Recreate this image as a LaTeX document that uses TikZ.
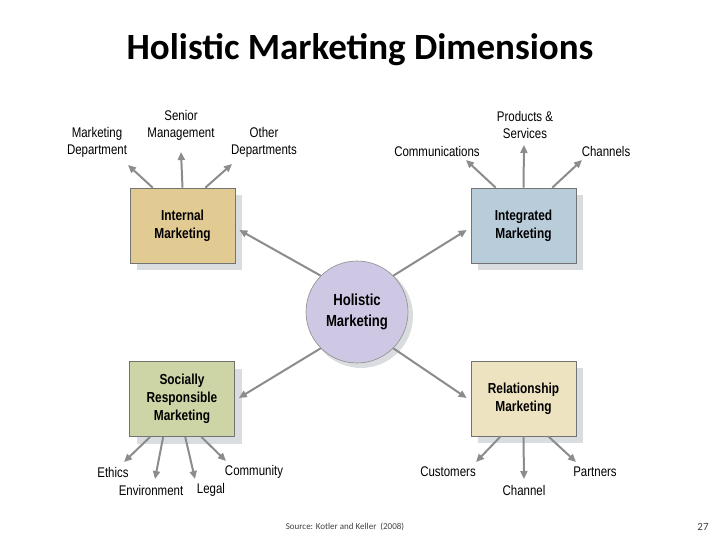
\documentclass[tikz,border=0pt]{standalone}
\usepackage{fontspec}
\setmainfont{Carlito}
\newfontfamily\narrowf[FakeStretch=0.82]{Liberation Sans}
\usetikzlibrary{arrows.meta}
\definecolor{arr}{HTML}{8C8C8C}
\definecolor{shad}{HTML}{DADDE0}
\definecolor{cim}{HTML}{E2CB93}
\definecolor{cig}{RGB}{185,204,218}
\definecolor{csr}{RGB}{205,213,166}
\definecolor{crm}{RGB}{238,227,192}
\definecolor{chm}{RGB}{207,200,228}
\tikzset{x=1pt,y=-1pt,
 box/.style={draw=black!55,line width=0.6pt,minimum width=105pt,minimum height=75pt,inner sep=0pt,align=center,font=\narrowf\bfseries\fontsize{14.5}{18}\selectfont},
 lbl/.style={align=center,font=\narrowf\fontsize{14}{17}\selectfont,inner sep=1pt},
 ar/.style={draw=arr,line width=2pt,-{Triangle[length=8pt,width=7pt]}}}
\begin{document}
\begin{tikzpicture}
\useasboundingbox (0,0) rectangle (720,540);
\node (title) at (360,50) {\bfseries\fontsize{37}{40}\selectfont Holistic Marketing Dimensions};
% shadows
\foreach \x/\y in {182.5/225.5,523.5/225.5,182/399,523.5/398.5}
  \fill[shad] (\x-52.5+7,\y-37.5+7) rectangle (\x+52.5+7,\y+37.5+7);
\fill[shad] (361,316) circle (52);
\node[box,fill=cim] (im) at (182.5,225.5) {Internal\\Marketing};
\node[box,fill=cig] (ig) at (523.5,225.5) {Integrated\\Marketing};
\node[box,fill=csr] (sr) at (182,399) {Socially\\Responsible\\Marketing};
\node[box,fill=crm] (rm) at (523.5,398.5) {Relationship\\Marketing};
\node[circle,draw=black!45,line width=0.6pt,minimum size=102pt,inner sep=0pt,align=center,
 font=\narrowf\bfseries\fontsize{16}{21}\selectfont,fill=chm] (hm) at (357,312) {Holistic\\Marketing};
% center arrows
\draw[ar] (hm.135) -- ([xshift=4pt]im.east |- 0,230) ;
\draw[ar] (hm.45) -- ([xshift=-4pt]ig.west |- 0,230);
\draw[ar] (hm.225) -- ([xshift=4pt]sr.east |- 0,398);
\draw[ar] (hm.315) -- ([xshift=-4pt]rm.west |- 0,398);
% labels
\node[lbl] (md) at (97,142) {Marketing\\Department};
\node[lbl] (sm) at (181,125) {Senior\\Management};
\node[lbl] (od) at (264,142) {Other\\Departments};
\node[lbl] (ps) at (525,125) {Products \&\\Services};
\node[lbl] (co) at (437,151) {Communications};
\node[lbl] (ch) at (606,151) {Channels};
\node[lbl] (et) at (113,472) {Ethics};
\node[lbl] (en) at (151,490) {Environment};
\node[lbl] (le) at (211,490) {Legal};
\node[lbl] (cm) at (254,472) {Community};
\node[lbl] (cu) at (448,472) {Customers};
\node[lbl] (cn) at (524,490) {Channel};
\node[lbl] (pa) at (595,472) {Partners};
\coordinate (a1) at (128,165); \coordinate (a2) at (181,152); \coordinate (a3) at (232,164);
\draw[ar] (im.north west)++(23,0) -- (a1);
\draw[ar] (im.north) -- (a2);
\draw[ar] (im.north east)++(-30,0) -- (a3);
\coordinate (b1) at (466,160); \coordinate (b2) at (524,145); \coordinate (b3) at (582,160);
\draw[ar] (ig.north west)++(25,0) -- (b1);
\draw[ar] (ig.north) -- (b2);
\draw[ar] (ig.north east)++(-24,0) -- (b3);
\coordinate (c1) at (124,462); \coordinate (c2) at (155,479); \coordinate (c3) at (195,479); \coordinate (c4) at (226,461);
\draw[ar] (sr.south west)++(21,0) -- (c1);
\draw[ar] (sr.south west)++(34,0) -- (c2);
\draw[ar] (sr.south west)++(56,0) -- (c3);
\draw[ar] (sr.south west)++(72,0) -- (c4);
\coordinate (d1) at (476,462); \coordinate (d2) at (524,479); \coordinate (d3) at (576,462);
\draw[ar] (rm.south west)++(30,0) -- (d1);
\draw[ar] (rm.south) -- (d2);
\draw[ar] (rm.south east)++(-28,0) -- (d3);
\node[font=\fontsize{9}{10}\selectfont,text=black!75] (src) at (345,527) {Source: Kotler and Keller\ \ (2008)};
\node[font=\fontsize{11}{12}\selectfont,text=black!75] (pg) at (703,527) {27};
\end{tikzpicture}
\end{document}
